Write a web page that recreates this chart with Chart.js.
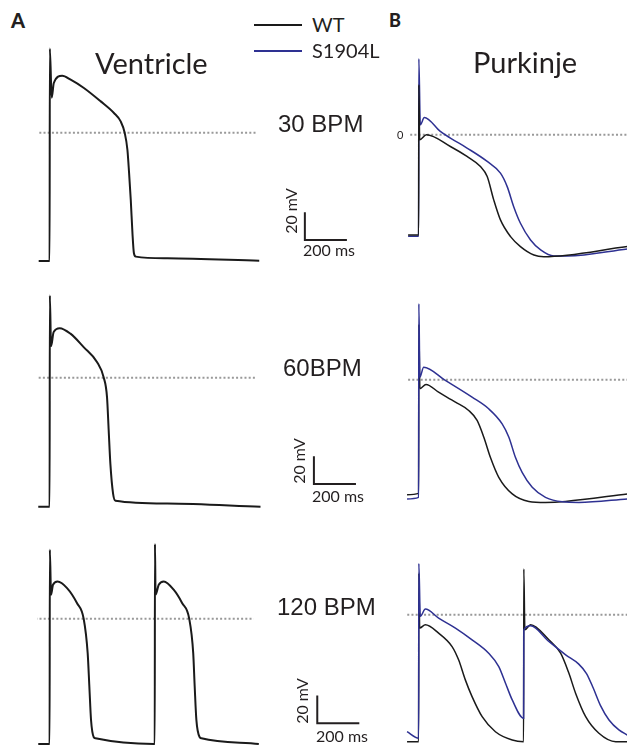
<!DOCTYPE html>
<html lang="en">
<head>
<meta charset="UTF-8">
<title>Ventricle / Purkinje action potentials</title>
<script src="https://cdn.jsdelivr.net/npm/chart.js"></script>
<style>
  html, body { margin: 0; padding: 0; background: #fff; }
  body { width: 627px; height: 745px; position: relative; overflow: hidden; font-family: Lato, sans-serif; color: #231f20; }
  .panel { position: absolute; }
  .panel canvas { display: block; }
  .lbl { position: absolute; line-height: 1; white-space: nowrap; }
  .key { position: absolute; height: 2px; width: 48px; left: 254px; }
</style>
</head>
<body>
<div class="key" style="top:24px;background:#1a1a1a"></div>
<div class="key" style="top:50px;background:#2e3192"></div>

<script>
// time in ms (0 = stimulus), membrane potential in mV
const vent30Time = [-52, 0, 1, 10, 20, 60, 100, 163, 243, 306, 338, 357, 370, 378, 386, 394, 401, 410, 560, 997];
const vent30Wt   = [-92.8, -92.8, 60.9, 25.4, 36, 41.3, 38.4, 32.4, 22.7, 14.3, 8.2, 0, -12.3, -29.2, -48.6, -72.7, -87.2, -89.6, -90.8, -92.5];

const vent60Time = [-54, 0, 1, 7, 19, 48, 99, 162, 226, 257, 273, 281, 289, 302, 313, 559, 1003];
const vent60Wt   = [-93.3, -93.3, 59.6, 22.9, 33, 35.9, 31.9, 22.2, 11.3, 0.4, -14, -38.2, -62.3, -84, -88.9, -90.9, -93.3];

const vent120Time = [-54, 0, 1, 7, 16, 38, 83, 130, 162, 181, 189, 197, 210, 218, 495, 500, 501, 504, 519, 543, 590, 630, 664, 683, 690, 698, 714, 722, 995];
const vent120Wt   = [-90.6, -90.6, 50, 17.4, 24.6, 27, 22.2, 11.4, 0, -24.9, -49, -73.2, -85.7, -86.5, -90.6, -90.6, 54.1, 17.4, 24.6, 27, 21, 11.4, 0, -24.9, -49, -73.2, -85.7, -86.5, -90.6];

const purk30WtTime  = [-50, 0, 1, 5, 37, 151, 230, 294, 326, 357, 389, 437, 484, 548, 595, 992];
const purk30Wt      = [-72.5, -72.5, 36.2, -3.6, 0, -8.5, -15.7, -23, -30.2, -47.1, -61.6, -73.7, -80.9, -87, -88.2, -80.9];
const purk30MutTime = [-50, 0, 1, 8, 27, 103, 151, 230, 326, 389, 421, 452, 484, 532, 580, 643, 707, 992];
const purk30Mut     = [-73.5, -73.5, 54.9, 7.2, 12.5, 2.4, -2.4, -9.6, -19.3, -27.8, -37.5, -52, -64, -76.1, -83.3, -87.7, -87.7, -82.6];

const purk60WtTime  = [-55, 0, 1, 6, 35, 95, 175, 238, 278, 310, 341, 381, 445, 524, 603, 698, 992];
const purk60Wt      = [-83.1, -82.2, 40, -6.5, -3.4, -9, -16.2, -22.2, -29.4, -41.6, -56.1, -70.6, -82.6, -88, -88.7, -88, -82.6];
const purk60MutTime = [-55, 0, 1, 6, 24, 127, 254, 333, 397, 429, 460, 492, 540, 603, 683, 762, 992];
const purk60Mut     = [-86.2, -85.1, 55, 1.9, 9.1, -0.5, -12.6, -21, -31.9, -41.6, -56.1, -67, -77.8, -85.1, -88.3, -88.7, -86.2];

const purk120WtTime  = [-55, 0, 1, 5, 32, 95, 159, 190, 222, 254, 302, 365, 445, 499, 500, 505, 532, 619, 675, 714, 746, 794, 857, 937, 992];
const purk120Wt      = [-91.8, -91.8, 30, -9.6, -7.2, -13.3, -23, -32.6, -47.1, -59.2, -73.7, -84.6, -90.6, -91.8, 33.1, -10.9, -7.2, -18.1, -27.8, -42.2, -56.7, -73.7, -85.7, -91.8, -91.8];
const purk120MutTime = [-55, 0, 1, 8, 32, 95, 175, 254, 333, 381, 413, 445, 499, 500, 532, 619, 699, 760, 798, 830, 864, 905, 952, 992];
const purk120Mut     = [-84.6, -89.3, 37, -1.2, 4.1, -2.4, -9.6, -18.1, -27.8, -37.5, -49.5, -61.6, -74.9, -10.9, -8, -19.3, -29, -35.5, -42.5, -53, -65.5, -76.1, -83.3, -87];

const seriesNames = ['WT', 'S1904L'];
const rateLabels = ['30 BPM', '60BPM', '120 BPM'];
const BAR_MV = 20, BAR_MS = 200;

const KX = 0.21;   // px per ms
const KY = 1.38;   // px per mV
const V_MIN = -100, V_MAX = 70;
const WT_COLOR = '#1a1a1a', MUT_COLOR = '#2e3192';

function pts(t, v) { return t.map((x, i) => ({ x: x, y: v[i] })); }

function trace(t, v, color, width) {
  return { data: pts(t, v), borderColor: color, borderWidth: width, pointRadius: 0,
           cubicInterpolationMode: 'monotone', fill: false, clip: false };
}
function zeroLine(from, to) {
  return { data: [{ x: from, y: 0 }, { x: to, y: 0 }], borderColor: '#999999', borderWidth: 2,
           borderDash: [2, 2.2], pointRadius: 0, tension: 0, clip: false };
}
function scaleBar(t, v) {
  return { data: [{ x: t, y: v + BAR_MV }, { x: t, y: v }, { x: t + BAR_MS, y: v }],
           borderColor: '#231f20', borderWidth: 2, pointRadius: 0, tension: 0, clip: false,
           borderJoinStyle: 'miter', borderCapStyle: 'butt' };
}

function panel(originX, zeroY, xmin, xmax, datasets) {
  const w = Math.round((xmax - xmin) * KX), h = Math.round((V_MAX - V_MIN) * KY);
  const div = document.createElement('div');
  div.className = 'panel';
  div.style.left = (originX + xmin * KX) + 'px';
  div.style.top = (zeroY - V_MAX * KY) + 'px';
  const c = document.createElement('canvas');
  c.width = w; c.height = h;
  div.appendChild(c);
  document.body.appendChild(div);
  new Chart(c, {
    type: 'line',
    data: { datasets: datasets },
    options: {
      responsive: false, animation: false, events: [],
      layout: { padding: 0 },
      scales: {
        x: { type: 'linear', min: xmin, max: xmax, display: false },
        y: { type: 'linear', min: V_MIN, max: V_MAX, display: false }
      },
      plugins: { legend: { display: false }, tooltip: { enabled: false } }
    }
  });
}

// text placed by baseline
function label(text, x, baseline, size, opts) {
  opts = opts || {};
  const d = document.createElement('div');
  d.className = 'lbl';
  d.textContent = text;
  const k = opts.arial ? 0.846 : 0.887;
  d.style.fontSize = size + 'px';
  if (opts.arial) d.style.fontFamily = '"Liberation Sans", Arial, sans-serif';
  if (opts.bold) d.style.fontWeight = '900';
  d.style.left = x + 'px';
  d.style.top = (baseline - k * size) + 'px';
  document.body.appendChild(d);
}
function vlabel(text, cx, cy, size) {
  const d = document.createElement('div');
  d.className = 'lbl';
  d.textContent = text;
  d.style.fontSize = size + 'px';
  d.style.left = cx + 'px';
  d.style.top = cy + 'px';
  d.style.transform = 'translate(-50%, -50%) rotate(-90deg)';
  document.body.appendChild(d);
}

// ventricle column
panel(49.3, 133, -60, 1500, [
  trace(vent30Time, vent30Wt, WT_COLOR, 2), scaleBar(1214, -77.5), zeroLine(-49, 989)]);
panel(49.3, 377.3, -60, 1500, [
  trace(vent60Time, vent60Wt, WT_COLOR, 2), scaleBar(1257, -76.8), zeroLine(-52, 980)]);
panel(49.3, 619, -60, 1500, [
  trace(vent120Time, vent120Wt, WT_COLOR, 2), scaleBar(1273, -75.6), zeroLine(-68, 971)]);

// purkinje column
panel(418.3, 135, -60, 1000, [
  trace(purk30WtTime, purk30Wt, WT_COLOR, 1.5), trace(purk30MutTime, purk30Mut, MUT_COLOR, 1.5), zeroLine(-40, 1010)]);
panel(418.3, 379.3, -60, 1000, [
  trace(purk60MutTime, purk60Mut, MUT_COLOR, 1.5), trace(purk60WtTime, purk60Wt, WT_COLOR, 1.5), zeroLine(-50, 1010)]);
panel(418.3, 615, -60, 1000, [
  trace(purk120MutTime, purk120Mut, MUT_COLOR, 1.5), trace(purk120WtTime, purk120Wt, WT_COLOR, 1.5), zeroLine(-54, 1010)]);

label('A', 11, 28, 20, { bold: true });
label('B', 389, 27, 18, { bold: true });
label('Ventricle', 95, 74, 29);
label('Purkinje', 473, 73, 29);
label(seriesNames[0], 312, 32, 20);
label(seriesNames[1], 312, 58, 20);
label(rateLabels[0], 278, 132, 24, { arial: true });
label(rateLabels[1], 283, 376, 24, { arial: true });
label(rateLabels[2], 277, 615, 24, { arial: true });
label('0', 397, 139, 11);

label(BAR_MS + ' ms', 303, 256, 16);
label(BAR_MS + ' ms', 312, 502, 16);
label(BAR_MS + ' ms', 316, 742, 16);
vlabel(BAR_MV + ' mV', 291, 211, 16);
vlabel(BAR_MV + ' mV', 299, 461, 16);
vlabel(BAR_MV + ' mV', 302, 701, 16);
</script>
</body>
</html>
